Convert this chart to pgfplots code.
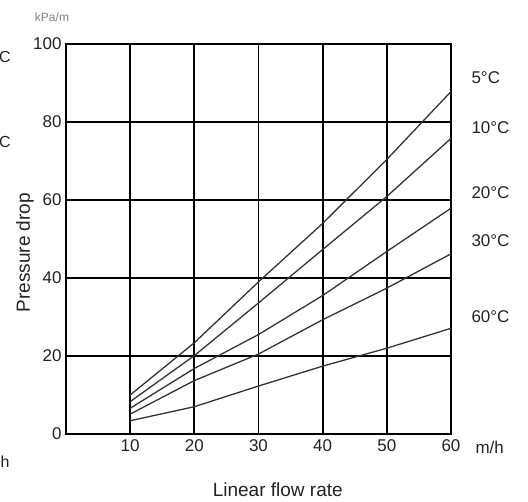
\documentclass[border=0pt]{standalone}
\usepackage{pgfplots}
\pgfplotsset{compat=1.18}
\usepackage{fontspec}
\setmainfont{Liberation Sans}
\definecolor{txt}{HTML}{222222}
\definecolor{crv}{HTML}{333333}

\begin{document}
\begin{tikzpicture}
\begin{axis}[
    scale only axis, width=385bp, height=390bp,
    xmin=0, xmax=60, ymin=0, ymax=100,
    xtick={10,20,30,40,50,60}, ytick={0,20,40,60,80,100},
    major tick length=0pt,
    grid=major, major grid style={black, line width=1.7bp},
    axis line style={black, line width=1.7bp},
    tick label style={font=\fontsize{17bp}{19bp}\selectfont, text=txt},
    xticklabel style={yshift=-2bp},
    yticklabel style={xshift=-1bp},
    /pgf/number format/assume math mode=true,
    clip=false,
]
\addplot[crv, line width=1.3bp] coordinates {(10,10.0) (20,23.4) (30,39.0) (40,54.0) (50,70.4) (60,87.8)};
\addplot[crv, line width=1.3bp] coordinates {(10,8.3) (20,20.1) (30,33.6) (40,47.3) (50,60.9) (60,75.8)};
\addplot[crv, line width=1.3bp] coordinates {(10,6.6) (20,16.8) (30,25.5) (40,35.5) (50,46.8) (60,57.9)};
\addplot[crv, line width=1.3bp] coordinates {(10,5.1) (20,13.7) (30,20.5) (40,29.3) (50,37.4) (60,46.2)};
\addplot[crv, line width=1.3bp] coordinates {(10,3.4) (20,7.0) (30,12.3) (40,17.4) (50,22.0) (60,27.1)};

\begin{scope}[every node/.style={text=txt, font=\fontsize{17bp}{19bp}\selectfont, anchor=west}]
\node at ([xshift=17bp]axis cs:60,91.3) {5°C};
\node at ([xshift=17bp]axis cs:60,78.5) {10°C};
\node at ([xshift=17bp]axis cs:60,62.0) {20°C};
\node at ([xshift=17bp]axis cs:60,49.7) {30°C};
\node at ([xshift=17bp]axis cs:60,30.0) {60°C};
\node at ([xshift=21bp, yshift=-13bp]axis cs:60,0) {m/h};
\end{scope}
\node[text=txt, font=\fontsize{19bp}{22bp}\selectfont] at ([yshift=-56bp]axis cs:33,0) {Linear flow rate};
\node[text=txt, font=\fontsize{19bp}{22bp}\selectfont, rotate=90] at ([xshift=-41bp]axis cs:0,46.5) {Pressure drop};
\node[text=gray, font=\fontsize{12bp}{14bp}\selectfont] at ([xshift=-14bp, yshift=27bp]axis cs:0,100) {kPa/m};
\node[text=txt, font=\fontsize{16bp}{18bp}\selectfont] at ([xshift=-61bp, yshift=-13bp]axis cs:0,100) {C};
\node[text=txt, font=\fontsize{16bp}{18bp}\selectfont] at ([xshift=-61bp, yshift=-20bp]axis cs:0,80) {C};
\node[text=txt, font=\fontsize{16bp}{18bp}\selectfont] at ([xshift=-61bp, yshift=-28bp]axis cs:0,0) {h};
\end{axis}
\pgfresetboundingbox
\path[use as bounding box] (current axis.south west) ++(-66bp,-68bp) rectangle ++(528bp,502bp);
\end{tikzpicture}
\end{document}
